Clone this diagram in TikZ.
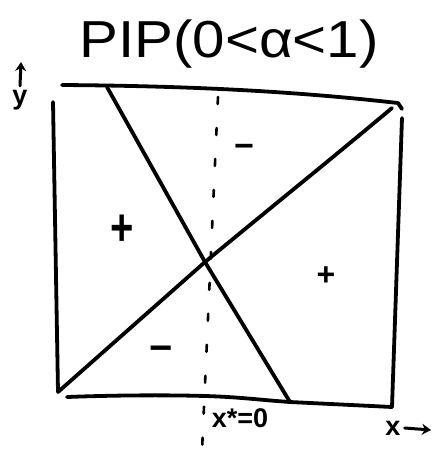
\documentclass[tikz,border=0pt]{standalone}
\usepackage{fontspec}
\setmainfont{Liberation Sans}
\usetikzlibrary{arrows.meta}
\begin{document}
\begin{tikzpicture}[x=1pt,y=-1pt, line cap=round, line join=round,
  ink/.style={line width=3.8pt, black},
  dashink/.style={line width=2.6pt, black, dash pattern=on 7pt off 24pt},
  axarrow/.style={line width=3pt, black, -{Stealth[length=9pt,width=11pt]}},
  title/.style={font=\fontsize{52}{56}\selectfont, inner sep=0pt, xscale=1.12},
  lbl/.style={font=\bfseries\fontsize{27}{29}\selectfont, inner sep=0pt},
  sign/.style={font=\bfseries\fontsize{40}{42}\selectfont, inner sep=0pt}]
\useasboundingbox (0,0) rectangle (437,451);

% corners and line end points
\coordinate (tl) at (62,85);
\coordinate (tr) at (398,103);
\coordinate (trk) at (402,109);
\coordinate (rt) at (402,118);
\coordinate (rb) at (392,407);
\coordinate (lt) at (53,102);
\coordinate (lb) at (58,392);
\coordinate (bl) at (67,397);
\coordinate (bm) at (205,396);
\coordinate (bk) at (290,402);
\coordinate (dtop) at (107,87);
\coordinate (cross) at (205,262);
\coordinate (ttop) at (392,108);
\coordinate (vtop) at (218,97);
\coordinate (vbot) at (202,451);
\coordinate (yahead) at (21,62);
\coordinate (xahead) at (431,430);

% box
\draw[ink] (tl) .. controls (200,86) and (300,92) .. (tr) -- (trk);
\draw[ink] (rt) -- (rb);
\draw[ink] (lt) -- (lb);
\draw[ink] (bl) .. controls (120,395) and (170,395) .. (bm) .. controls (240,397) and (260,400) .. (bk) -- (rb);

% crossing lines
\draw[ink] (dtop) -- (cross) -- (bk);
\draw[ink] (lb) -- (cross) .. controls (280,200) and (330,160) .. (ttop);

% dashed vertical line
\draw[dashink] (vtop) -- (vbot);

% title
\node[title] (ttl) at (229,44) {PIP(0<α<1)};

% signs
\node[sign, yscale=1.3] (p1) at (122,230) {+};
\node[sign, font=\bfseries\fontsize{32}{34}\selectfont] (p2) at (326,276) {+};
\node[sign, font=\bfseries\fontsize{34}{36}\selectfont] (m1) at (244,151) {−};
\node[sign] (m2) at (161,354) {−};

% axis labels
\node[lbl] (xs) at (240,418) {x*=0};
\node[lbl] (xl) at (393,428) {x};
\draw[axarrow] ([xshift=4pt]xl.east) -- (xahead);
\node[lbl] (yl) at (20,100) {y};
\draw[axarrow] ([yshift=4pt]yl.north) -- (yahead);
\end{tikzpicture}
\end{document}
